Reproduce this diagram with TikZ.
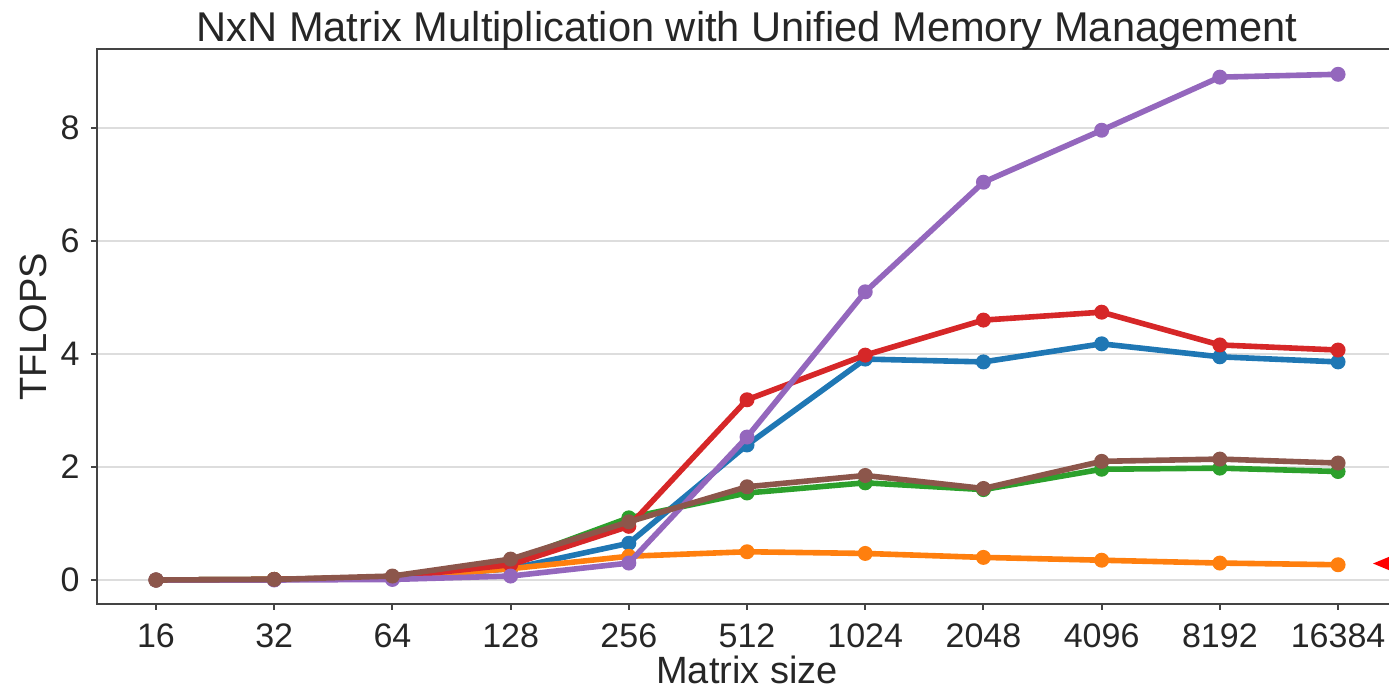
\documentclass[tikz,border=0pt]{standalone}
\usepackage{fontspec}
\setmainfont{Liberation Sans}
\usepackage{xcolor}
\usepackage{tikz}
\usetikzlibrary{positioning}

\definecolor{cblue}{HTML}{1F77B4}
\definecolor{corange}{HTML}{FF7F0E}
\definecolor{cgreen}{HTML}{2CA02C}
\definecolor{cred}{HTML}{D62728}
\definecolor{cpurple}{HTML}{9467BD}
\definecolor{cbrown}{HTML}{8C564B}
\definecolor{gridgray}{HTML}{DDDDDD}
\definecolor{axisgray}{HTML}{444444}
\definecolor{labelgray}{HTML}{262626}

% one line with its dots
\newcommand{\plotseries}[2]{%
  \draw[series, #1] (0,0) \foreach \y [count=\i from 0] in {#2} { -- (\i,\y) };
  \foreach \y [count=\i from 0] in {#2}
    \fill[#1] (\i,\y) circle (3.75pt);
}

\begin{document}
\begin{tikzpicture}[
  x=59.1pt, y=28.25pt,
  font=\fontsize{17}{20}\selectfont
]
\tikzset{
    gridline/.style = {draw=gridgray, line width=0.75pt},
    spine/.style = {draw=axisgray, line width=1pt},
    series/.style = {line width=2.8pt, line join=round, line cap=round},
    ticklabel/.style = {text=labelgray, inner sep=0pt},
    axislabel/.style = {text=labelgray, inner sep=0pt, font=\fontsize{19}{22}\selectfont},
}
\useasboundingbox (-1.3198,-1.982) rectangle (10.431,10.265);
\clip (-1.3198,-1.982) rectangle (10.431,10.265);

% grid
\foreach \v in {0,2,...,8}
  \draw[gridline] (-0.5,\v) -- (10.5,\v);

% axes box
\draw[spine] (-0.5,-0.425) rectangle (10.5,9.398);

% y ticks
\foreach \v in {0,2,...,8} {
  \draw[spine] (-0.5,\v) -- ++(-3pt,0);
  \node[ticklabel, anchor=east] (ytick\v) at (-0.643,\v) {\v};
}

% x ticks
\foreach \lab [count=\i from 0] in {16,32,64,128,256,512,1024,2048,4096,8192,16384} {
  \draw[spine] (\i,-0.425) -- ++(0,-3pt);
  \node[ticklabel, anchor=base] (xtick\i) at (\i,-1.186) {\lab};
}

% labels
\node[axislabel, anchor=base] (title) at (5,9.522) {\fontsize{20.8}{24}\selectfont NxN Matrix Multiplication with Unified Memory Management};
\node[axislabel, anchor=base] (xlabel) at (5,-1.84) {Matrix size};
\node[axislabel, rotate=90] (ylabel) at (-1.04,4.48) {TFLOPS};

% data
\plotseries{cblue}{0,0.01,0.03,0.2,0.65,2.39,3.91,3.86,4.18,3.95,3.86}
\plotseries{corange}{0,0.01,0.03,0.2,0.42,0.5,0.47,0.4,0.35,0.3,0.27}
\plotseries{cgreen}{0,0.01,0.05,0.33,1.1,1.54,1.72,1.6,1.96,1.98,1.92}
\plotseries{cred}{0,0.01,0.05,0.27,0.95,3.19,3.98,4.6,4.74,4.16,4.07}
\plotseries{cpurple}{0,0.0,0.01,0.07,0.3,2.53,5.1,7.04,7.96,8.9,8.95}
\plotseries{cbrown}{0,0.01,0.07,0.37,1.03,1.65,1.85,1.62,2.1,2.14,2.07}

% marker at right edge
\fill[red] (10.296,0.292) -- ++(12pt,5pt) -- ++(0,-10pt) -- cycle;
\end{tikzpicture}
\end{document}
